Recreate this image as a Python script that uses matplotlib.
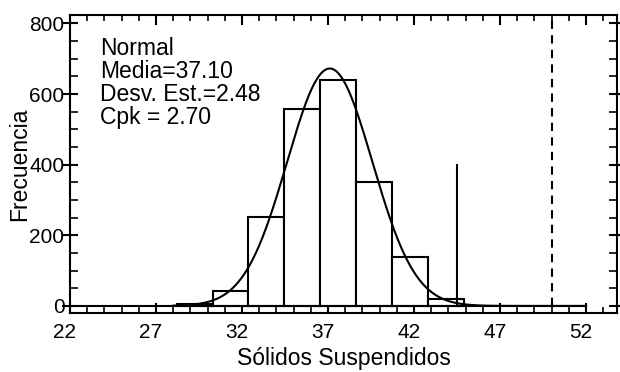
import numpy as np
import matplotlib.pyplot as plt
from matplotlib.ticker import MultipleLocator
import matplotlib.transforms as mtransforms

# Histogram data.
binEdges = [28.2, 30.29, 32.37, 34.46, 36.54, 38.63, 40.71, 42.8, 44.88]
counts = [5, 42, 251, 559, 640, 350, 138, 20]
mean = 37.10
stdDev = 2.48
cpk = 2.70
solidLineX = 44.5
solidLineTop = 400
usl = 50.0
xTicks = [22, 27, 32, 37, 42, 47, 52]
yTicks = [0, 200, 400, 600, 800]

plt.rcParams["font.family"] = ["Liberation Sans", "DejaVu Sans"]

fig = plt.figure(figsize=(6.2, 3.72), dpi=100)
ax = fig.add_axes([0.1129, 0.1586, 0.8823, 0.8011])

# Histogram bars (white with black edges).
widths = np.diff(binEdges)
ax.bar(binEdges[:-1], counts, width=widths, align="edge",
       facecolor="white", edgecolor="black", linewidth=1.5, zorder=2)

# Fitted normal curve scaled to counts.
n = sum(counts)
binWidth = np.mean(widths)
xs = np.linspace(28.0, 52.0, 400)
ys = n * binWidth / (stdDev * np.sqrt(2 * np.pi)) * np.exp(-0.5 * ((xs - mean) / stdDev) ** 2)
ax.plot(xs, ys, color="black", linewidth=1.5, zorder=3)

# Baseline, reference lines.
ax.plot([22, 52], [0, 0], color="black", linewidth=1.5, zorder=3)
ax.plot([solidLineX, solidLineX], [0, solidLineTop], color="black", linewidth=1.5, zorder=3)
ax.plot([usl, usl], [0, 824], color="black", linewidth=1.5, linestyle=(0, (4, 3)), zorder=3)

ax.text(0.055, 0.925, "Normal\nMedia=%.2f\nDesv. Est.=%.2f\nCpk = %.2f" % (mean, stdDev, cpk),
        transform=ax.transAxes, ha="left", va="top", fontsize=16.5, linespacing=1.0)

ax.set_xlim(22, 53.8)
ax.set_ylim(-20, 824)
ax.set_xticks(xTicks)
ax.set_yticks(yTicks)
ax.xaxis.set_minor_locator(MultipleLocator(1))
ax.yaxis.set_minor_locator(MultipleLocator(50))

for s in ax.spines.values():
    s.set_linewidth(1.5)

ax.tick_params(axis="x", which="major", direction="in", length=7, width=1.5,
               labelsize=15, pad=7, top=True)
ax.tick_params(axis="x", which="minor", direction="in", length=4, width=1.2, top=True)
ax.tick_params(axis="y", which="major", direction="inout", length=12, width=1.5,
               labelsize=15, pad=-2, right=True)
ax.tick_params(axis="y", which="minor", direction="in", length=6, width=1.2, right=True)

# Shift x tick labels slightly left as in the reference.
offset = mtransforms.ScaledTranslation(-5 / 100, 0, fig.dpi_scale_trans)
for lbl in ax.get_xticklabels():
    lbl.set_transform(lbl.get_transform() + offset)

ax.set_xlabel("Sólidos Suspendidos", fontsize=16.5, labelpad=4)
ax.set_ylabel("Frecuencia", fontsize=16.5, labelpad=-1)

fig.savefig("out.png", dpi=100)
